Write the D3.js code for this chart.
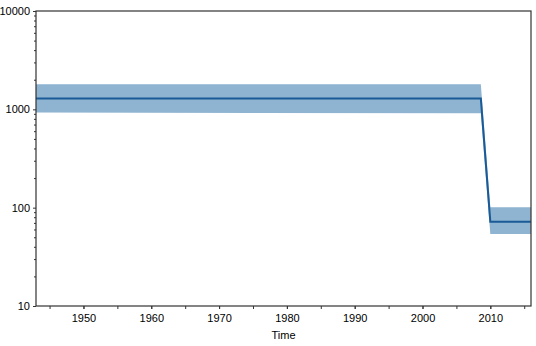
<!DOCTYPE html>
<html lang="en">
<head>
  <meta charset="UTF-8" />
  <title>Time series with band</title>
  <script src="https://d3js.org/d3.v7.min.js"></script>
  <style>
    body { margin: 0; background: #fff; }
    svg text { font-family: "Liberation Sans", Arial, sans-serif; font-size: 11px; fill: #000; }
  </style>
</head>
<body>
  <svg id="chart"></svg>
  <script>
    // data
    const years = [1943, 2008.6, 2010, 2016];
    const median = [1290, 1290, 72, 72];
    const upper = [1800, 1800, 101, 101];
    const lower = [930, 910, 54, 54];
    const xTicks = [1950, 1960, 1970, 1980, 1990, 2000, 2010];
    const yTicks = [10, 100, 1000, 10000];

    const width = 536, height = 346;
    const margin = { top: 11, right: 5, bottom: 40, left: 36 };

    const svg = d3.select("#chart").attr("width", width).attr("height", height);

    const x = d3.scaleLinear().domain([1943, 2016]).range([margin.left, width - margin.right]);
    const y = d3.scaleLog().domain([10, 10000]).range([height - margin.bottom, margin.top]);

    const rows = years.map((t, i) => ({ t, m: median[i], hi: upper[i], lo: lower[i] }));

    svg.append("path")
      .datum(rows)
      .attr("fill", "#8fb4d1")
      .attr("d", d3.area().x(d => x(d.t)).y0(d => y(d.lo)).y1(d => y(d.hi)));

    svg.append("path")
      .datum(rows)
      .attr("fill", "none")
      .attr("stroke", "#1a5a96")
      .attr("stroke-width", 2)
      .attr("d", d3.line().x(d => x(d.t)).y(d => y(d.m)));

    // frame
    svg.append("rect")
      .attr("x", margin.left).attr("y", margin.top)
      .attr("width", width - margin.left - margin.right)
      .attr("height", height - margin.top - margin.bottom)
      .attr("fill", "none").attr("stroke", "#333").attr("stroke-width", 1.2);

    // x axis
    const xMinor = d3.range(1945, 2016, 5);
    svg.append("g")
      .attr("transform", `translate(0,${height - margin.bottom})`)
      .call(d3.axisBottom(x).tickValues(xMinor).tickSize(3).tickFormat(""))
      .call(g => g.select(".domain").remove());
    const gx = svg.append("g")
      .attr("transform", `translate(0,${height - margin.bottom})`)
      .call(d3.axisBottom(x).tickValues(xTicks).tickSize(3).tickFormat(d3.format("d")))
      .call(g => g.select(".domain").remove());
    gx.selectAll("text").attr("dy", "0.9em");

    svg.append("text")
      .attr("x", (margin.left + width - margin.right) / 2)
      .attr("y", height - 7)
      .attr("text-anchor", "middle")
      .text("Time");

    // y axis
    const yMinor = [];
    [10, 100, 1000].forEach(b => { for (let k = 2; k <= 9; k++) yMinor.push(b * k); });
    svg.append("g")
      .attr("transform", `translate(${margin.left},0)`)
      .call(d3.axisLeft(y).tickValues(yMinor).tickSize(2).tickFormat(""))
      .call(g => g.select(".domain").remove());
    svg.append("g")
      .attr("transform", `translate(${margin.left},0)`)
      .call(d3.axisLeft(y).tickValues(yTicks).tickSize(3).tickFormat(d3.format("d")))
      .call(g => g.select(".domain").remove());

    svg.selectAll(".tick line").attr("stroke", "#333");
  </script>
</body>
</html>
